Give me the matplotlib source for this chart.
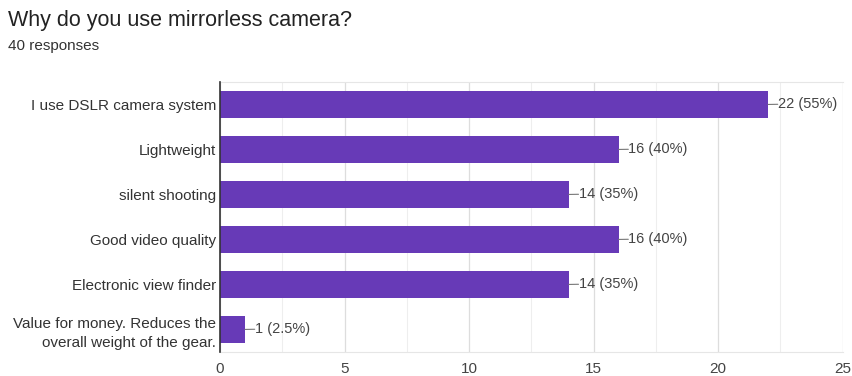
import matplotlib.pyplot as plt
import numpy as np

categories = [
    "I use DSLR camera system",
    "Lightweight",
    "silent shooting",
    "Good video quality",
    "Electronic view finder",
    "Value for money. Reduces the\noverall weight of the gear.",
]
counts = [22, 16, 14, 16, 14, 1]
percents = ["55%", "40%", "35%", "40%", "35%", "2.5%"]

plt.rcParams['font.family'] = ['Liberation Sans', 'DejaVu Sans']

fig = plt.figure(figsize=(8.53, 3.76), dpi=100)
ax = fig.add_axes([0.258, 0.064, 0.73, 0.718])

y = np.arange(len(categories))
ax.barh(y, counts, height=0.6, color="#673ab7", zorder=3)

for yi, c, p in zip(y, counts, percents):
    ax.annotate("{} ({})".format(c, p), xy=(c, yi), xytext=(7, 0.5),
                textcoords="offset points", va="center", ha="left",
                fontsize=10.5, color="#444444",
                bbox=dict(boxstyle="square,pad=0", fc="none", ec="none"),
                arrowprops=dict(arrowstyle="-", color="#777777", lw=0.8,
                                shrinkA=0, shrinkB=0))

ax.set_xlim(0, 25)
ax.set_ylim(len(categories) - 0.5, -0.5)
ax.set_yticks(y)
ax.set_yticklabels(categories, fontsize=11, color="#333333", ha="right",
                   linespacing=1.45)
ax.set_xticks(np.arange(0, 26, 5))
ax.set_xticks(np.arange(0, 26, 2.5), minor=True)
ax.tick_params(axis="x", which="both", length=0, labelsize=11,
               labelcolor="#444444", pad=7)
ax.tick_params(axis="y", length=0, pad=3)
ax.grid(axis="x", which="major", color="#dddddd", lw=0.9, zorder=0)
ax.grid(axis="x", which="minor", color="#eeeeee", lw=0.8, zorder=0)

for s in ["top", "right", "bottom"]:
    ax.spines[s].set_color("#e6e6e6")
ax.spines["right"].set_visible(False)
ax.spines["left"].set_color("#333333")
ax.spines["left"].set_linewidth(1.2)
ax.spines["left"].set_zorder(4)

fig.text(0.009, 0.945, "Why do you use mirrorless camera?", fontsize=15.5,
         color="#222222", va="center")
fig.text(0.009, 0.878, "40 responses", fontsize=11, color="#333333",
         va="center")

plt.savefig("out.png", dpi=100)
plt.close()
